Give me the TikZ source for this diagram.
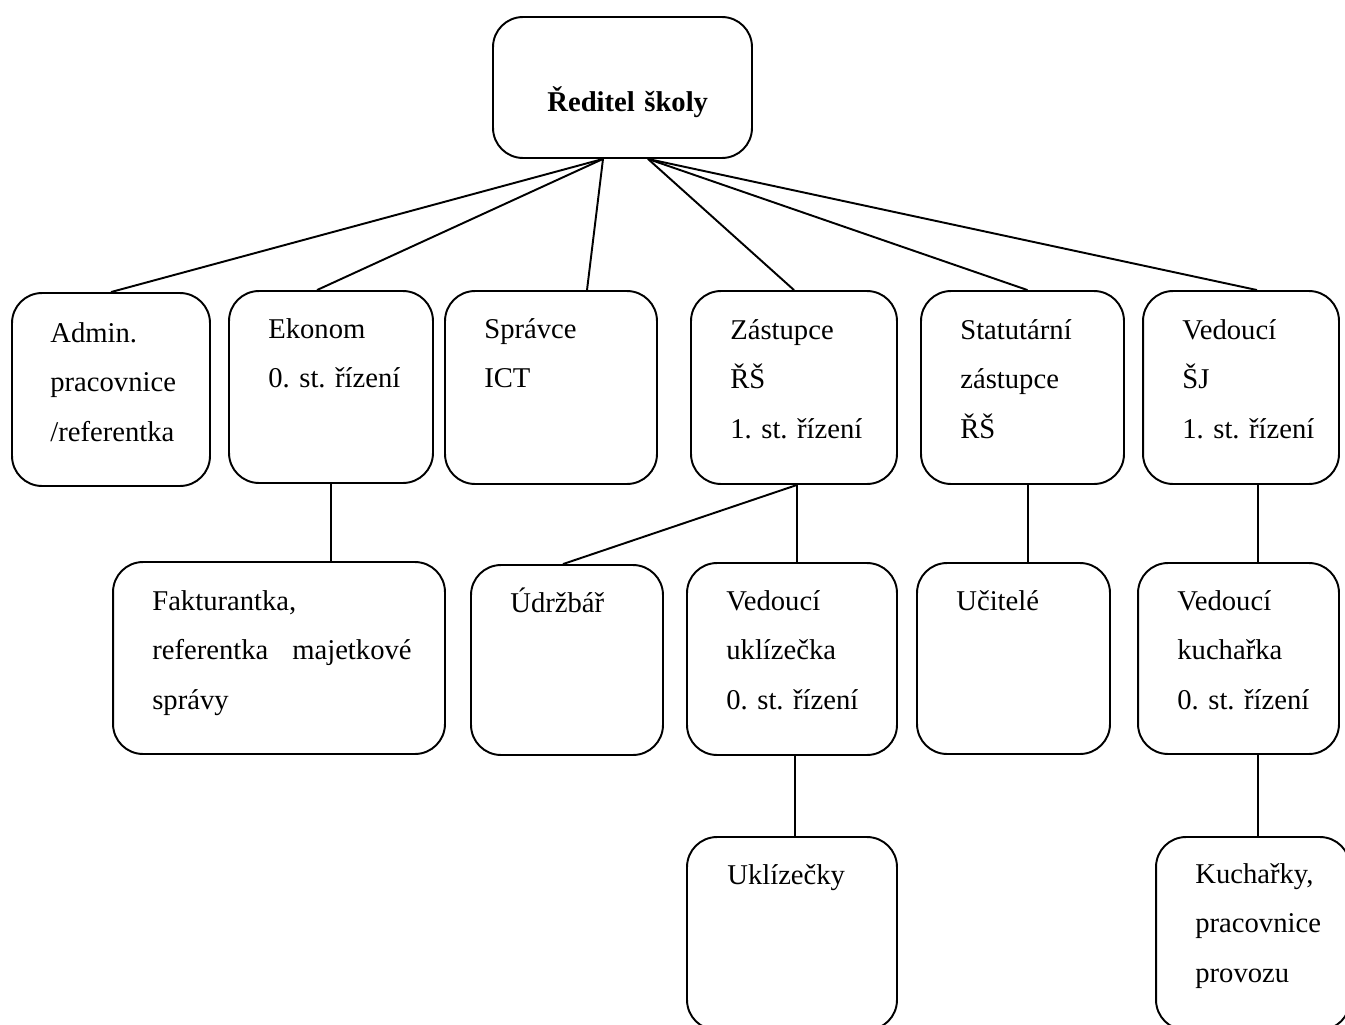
\documentclass[tikz,border=0pt]{standalone}
\usepackage{fontspec}
\setmainfont{Liberation Serif}
\usepackage{tikz}
\tikzset{
  box/.style = {draw, line width=1.1pt, rounded corners=0.6cm, inner sep=0pt},
  txt/.style = {anchor=base west, inner sep=0pt, text width=7cm, align=left,
                font=\fontsize{16.3pt}{28.2pt}\selectfont\frenchspacing},
  link/.style = {line width=1.1pt}
}

\begin{document}
\begin{tikzpicture}[x=0.02cm, y=-0.02cm]
  \useasboundingbox (0,0) rectangle (1345,1024);
  \clip (0,0) rectangle (1345,1024);
  % top
  \node[box, minimum width=5.18cm, minimum height=2.82cm] (dir) at (622.5,87.5) {};
  \node[txt, font=\fontsize{16.3pt}{28.2pt}\selectfont\bfseries] (t-dir) at (547,112) {Ředitel školy};
  % first level
  \node[box, minimum width=3.96cm, minimum height=3.86cm] (admin) at (111,389.5) {};
  \node[box, minimum width=4.08cm, minimum height=3.84cm] (ekonom) at (331,387) {};
  \node[box, minimum width=4.24cm, minimum height=3.86cm] (spravce) at (551,387.5) {};
  \node[box, minimum width=4.12cm, minimum height=3.86cm] (zast) at (794,387.5) {};
  \node[box, minimum width=4.06cm, minimum height=3.86cm] (stat) at (1022.5,387.5) {};
  \node[box, minimum width=3.92cm, minimum height=3.86cm] (vedsj) at (1241,387.5) {};
  \node[txt] (t-admin) at (50,342) {Admin.\\pracovnice\\/referentka};
  \node[txt] (t-ekonom) at (268,338) {Ekonom\\0. st. řízení};
  \node[txt] (t-spravce) at (484,338) {Správce\\ICT};
  \node[txt] (t-zast) at (730,339) {Zástupce\\ŘŠ\\1. st. řízení};
  \node[txt] (t-stat) at (960,339) {Statutární\\zástupce\\ŘŠ};
  \node[txt] (t-vedsj) at (1182,339) {Vedoucí\\ŠJ\\1. st. řízení};
  % second level
  \node[box, minimum width=6.64cm, minimum height=3.84cm] (faktur) at (279,658) {};
  \node[box, minimum width=3.84cm, minimum height=3.80cm] (udrz) at (567,660) {};
  \node[box, minimum width=4.20cm, minimum height=3.84cm] (veduk) at (792,659) {};
  \node[box, minimum width=3.86cm, minimum height=3.82cm] (ucit) at (1013.5,658.5) {};
  \node[box, minimum width=4.02cm, minimum height=3.82cm] (vedkuch) at (1238.5,658.5) {};
  \node[txt] (t-faktur) at (152,610) {Fakturantka,\\referentka\hspace{13.6pt}majetkové\\správy};
  \node[txt] (t-udrz) at (510,612) {Údržbář};
  \node[txt] (t-veduk) at (726,610) {Vedoucí\\uklízečka\\0. st. řízení};
  \node[txt] (t-ucit) at (956,610) {Učitelé};
  \node[txt] (t-vedkuch) at (1177,610) {Vedoucí\\kuchařka\\0. st. řízení};
  % third level
  \node[box, minimum width=4.20cm, minimum height=3.86cm] (uklz) at (792,933.5) {};
  \node[box, minimum width=3.88cm, minimum height=3.86cm] (kuch) at (1253,933.5) {};
  \node[txt] (t-uklz) at (727,884) {Uklízečky};
  \node[txt] (t-kuch) at (1195,883) {Kuchařky,\\pracovnice\\provozu};
  % connectors
  \coordinate (dirL) at ([shift={(-19.5,0)}]dir.south);
  \coordinate (dirR) at ([shift={(25.5,0)}]dir.south);
  \draw[link] (dirL) -- (admin.north);
  \draw[link] (dirL) -- ([shift={(-14,0)}]ekonom.north);
  \draw[link] (dirL) -- ([shift={(36,0)}]spravce.north);
  \draw[link] (dirR) -- (zast.north);
  \draw[link] (dirR) -- ([shift={(5,0)}]stat.north);
  \draw[link] (dirR) -- ([shift={(16,0)}]vedsj.north);
  \draw[link] (ekonom.south) -- (ekonom.south |- faktur.north);
  \draw[link] ([shift={(3,0)}]zast.south) -- ([shift={(-4,0)}]udrz.north);
  \draw[link] ([shift={(3,0)}]zast.south) -- ([shift={(3,0)}]zast.south |- veduk.north);
  \draw[link] ([shift={(5.5,0)}]stat.south) -- ([shift={(5.5,0)}]stat.south |- ucit.north);
  \draw[link] ([shift={(17,0)}]vedsj.south) -- ([shift={(17,0)}]vedsj.south |- vedkuch.north);
  \draw[link] ([shift={(3,0)}]veduk.south) -- ([shift={(3,0)}]veduk.south |- uklz.north);
  \draw[link] ([shift={(19.5,0)}]vedkuch.south) -- ([shift={(19.5,0)}]vedkuch.south |- kuch.north);
\end{tikzpicture}
\end{document}
